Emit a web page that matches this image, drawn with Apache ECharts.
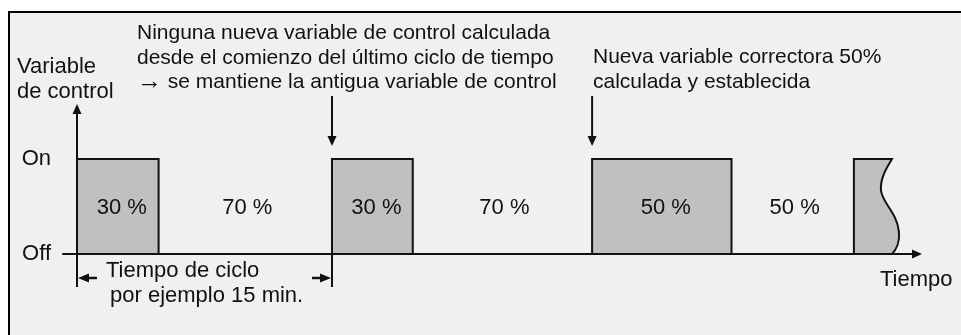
<!DOCTYPE html>
<html>
<head>
<meta charset="utf-8">
<script src="https://cdn.jsdelivr.net/npm/echarts@6/dist/echarts.min.js"></script>
<style>
html,body{margin:0;padding:0;background:#fff;}
#main{width:961px;height:335px;}
</style>
</head>
<body>
<div id="main"></div>
<script>
// tiempo en minutos (un ciclo = 15 min), nivel 0 = Off, 1 = On
var pulseStart = [0, 15, 30.3, 45.7];
var pulseEnd = [4.8, 19.75, 38.5, 47.94];
var dutyOn = ['30 %', '30 %', '50 %'];
var dutyOff = ['70 %', '70 %', '50 %'];
var levelLabels = ['Off', 'On'];
// borde cortado del último pulso: inicio + tramos bezier (c1, c2, fin)
var waveCut = [
    [47.94, 1],
    [47.65, 0.916], [47.24, 0.8], [47.29, 0.674],
    [47.35, 0.537], [48.24, 0.442], [48.35, 0.232],
    [48.41, 0.126], [48.18, 0.042], [47.94, 0]
];

var FAMILY = '"Liberation Sans", Arial, sans-serif';
var FONT = '21px ' + FAMILY;
var FONT_L = '22px ' + FAMILY;
var INK = '#111';

var myChart = echarts.init(document.getElementById('main'));

function arrowHead(tip, dx, dy, len, half) {
    // triangulo con la punta en tip, apuntando en la direccion (dx, dy)
    var bx = tip[0] - dx * len, by = tip[1] - dy * len;
    return {
        type: 'polygon',
        shape: {points: [tip, [bx - dy * half, by + dx * half], [bx + dy * half, by - dx * half]]},
        style: {fill: INK}
    };
}

function renderPulse(params, api) {
    var i = params.dataIndex;
    var s = api.value(0), e = api.value(1);
    var top = api.coord([s, 1]), bot = api.coord([e, 0]);
    var style = {fill: '#c0c0c0', stroke: INK, lineWidth: 2};
    var kids = [];
    if (i < dutyOn.length) {
        kids.push({type: 'rect', shape: {x: top[0], y: top[1], width: bot[0] - top[0], height: bot[1] - top[1]}, style: style});
        var m1 = api.coord([(s + e) / 2, 0.5]);
        kids.push({type: 'text', x: m1[0] + 4, y: m1[1] + 1, style: {text: dutyOn[i], font: FONT_L, fill: INK, align: 'center', verticalAlign: 'middle'}});
        var m2 = api.coord([(e + pulseStart[i + 1]) / 2, 0.5]);
        kids.push({type: 'text', x: m2[0] + 2, y: m2[1] + 1, style: {text: dutyOff[i], font: FONT_L, fill: INK, align: 'center', verticalAlign: 'middle'}});
    } else {
        var pts = waveCut.map(function (p) { return api.coord(p); });
        var d = 'M' + api.coord([s, 0]).join(',') + 'L' + top.join(',') + 'L' + pts[0].join(',');
        for (var k = 1; k < pts.length; k += 3) {
            d += 'C' + pts[k].join(',') + ' ' + pts[k + 1].join(',') + ' ' + pts[k + 2].join(',');
        }
        d += 'Z';
        kids.push({type: 'path', shape: {pathData: d}, style: style});
    }
    return {type: 'group', children: kids};
}

function renderNotes(params, api) {
    var kids = [];
    // flechas verticales sobre el 2º y 3er pulso
    [pulseStart[1], pulseStart[2]].forEach(function (t) {
        var p = api.coord([t, 1]);
        var tip = [p[0], p[1] - 13];
        kids.push({type: 'line', shape: {x1: p[0], y1: p[1] - 63, x2: p[0], y2: tip[1] - 8}, style: {stroke: INK, lineWidth: 2}});
        kids.push(arrowHead(tip, 0, 1, 10, 4.5));
    });
    // cota del tiempo de ciclo
    var a = api.coord([pulseStart[0], 0]), b = api.coord([pulseStart[1], 0]);
    var yd = a[1] + 24;
    [a, b].forEach(function (p) {
        kids.push({type: 'line', shape: {x1: p[0], y1: p[1], x2: p[0], y2: p[1] + 33}, style: {stroke: INK, lineWidth: 2}});
    });
    kids.push({type: 'line', shape: {x1: a[0] + 8, y1: yd, x2: a[0] + 20, y2: yd}, style: {stroke: INK, lineWidth: 2.5}});
    kids.push(arrowHead([a[0] + 1, yd], -1, 0, 11, 4.5));
    kids.push({type: 'line', shape: {x1: b[0] - 20, y1: yd, x2: b[0] - 8, y2: yd}, style: {stroke: INK, lineWidth: 2.5}});
    kids.push(arrowHead([b[0] - 1, yd], 1, 0, 11, 4.5));
    return {type: 'group', children: kids};
}

function txt(x, y, text, font) {
    return {
        type: 'text', x: x, y: y,
        style: {
            text: text, font: font || FONT, fill: INK, lineHeight: 24.5, verticalAlign: 'top',
            rich: {a: {fontSize: 25, fontFamily: FAMILY, lineHeight: 24.5, fill: INK}}
        }
    };
}

var option = {
    backgroundColor: '#fff',
    animation: false,
    grid: {left: 63, right: 44, top: 109, bottom: 81},
    xAxis: {
        type: 'value', min: -0.8235, max: 49.412,
        axisLine: {onZero: true, symbol: ['none', 'triangle'], symbolSize: [9, 10], lineStyle: {color: INK, width: 2}},
        axisTick: {show: false}, axisLabel: {show: false}, splitLine: {show: false}
    },
    yAxis: {
        type: 'value', min: 0, max: 1.526, interval: 1,
        axisLine: {onZero: true, symbol: ['none', 'triangle'], symbolSize: [9, 10], lineStyle: {color: INK, width: 2}},
        axisTick: {show: false}, splitLine: {show: false},
        axisLabel: {
            margin: 12, color: INK, fontSize: 22, fontFamily: FAMILY,
            padding: [0, 0, 7, 0],
            formatter: function (v) { return levelLabels[v] || ''; }
        }
    },
    graphic: [
        {type: 'rect', z: -10, shape: {x: 9, y: 12, width: 1000, height: 400}, style: {fill: '#f0f0f0', stroke: '#000', lineWidth: 2}},
        txt(137, 21, 'Ninguna nueva variable de control calculada\ndesde el comienzo del último ciclo de tiempo\n{a|\u2192} se mantiene la antigua variable de control'),
        txt(593, 45, 'Nueva variable correctora 50%\ncalculada y establecida'),
        txt(17, 55, 'Variable\nde control', FONT_L),
        txt(880, 268, 'Tiempo', FONT_L),
        txt(106, 259, 'Tiempo de ciclo', FONT_L),
        txt(110, 284, 'por ejemplo 15 min.', FONT_L)
    ],
    series: [
        {
            type: 'custom', clip: false, z: 3,
            renderItem: renderPulse,
            data: pulseStart.map(function (s, i) { return [s, pulseEnd[i]]; })
        },
        {
            type: 'custom', clip: false, z: 4,
            renderItem: renderNotes,
            data: [[0]]
        }
    ]
};

myChart.setOption(option);
</script>
</body>
</html>
